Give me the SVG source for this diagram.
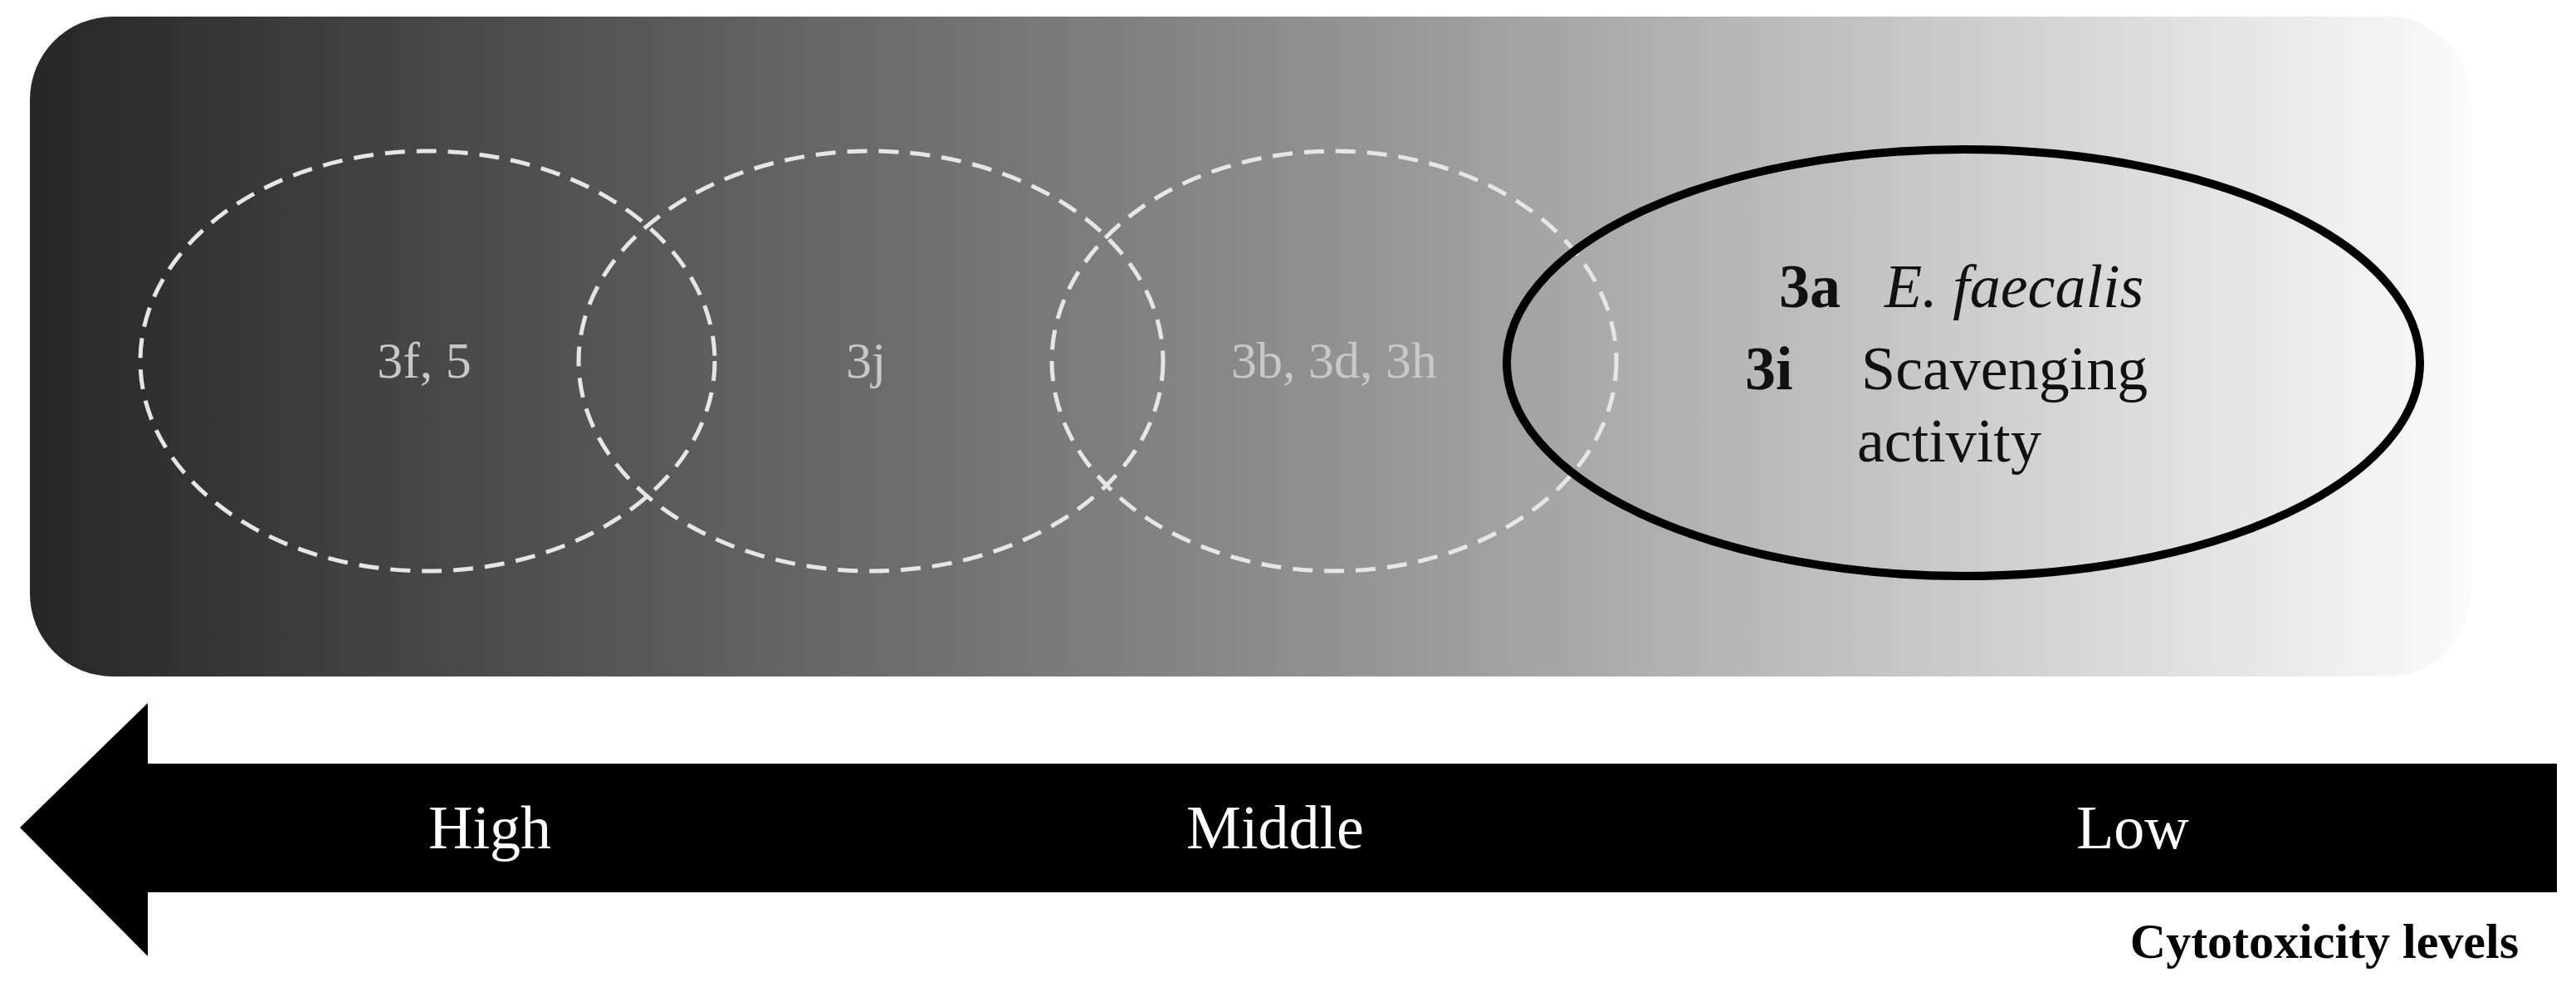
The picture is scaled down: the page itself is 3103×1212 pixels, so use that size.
<svg xmlns="http://www.w3.org/2000/svg" width="3103" height="1212" viewBox="0 0 3103 1212">
<defs>
<linearGradient id="bg" x1="0" y1="0" x2="1" y2="0">
<stop offset="0" stop-color="#262626"/>
<stop offset="0.5" stop-color="#8a8a8a"/>
<stop offset="1" stop-color="#fbfbfb"/>
</linearGradient>
</defs>
<style>
text{font-family:"Liberation Serif","DejaVu Serif",serif;}
.dash{fill:none;stroke:#e6e6e6;stroke-width:5;stroke-dasharray:24 14;}
.lbl{font-size:62px;fill:#c8c8c8;text-anchor:middle;}
.blk{font-size:74px;fill:#111;}
.wt{font-size:74px;fill:#fff;text-anchor:middle;}
</style>
<rect x="36" y="20" width="2940" height="795" rx="100" fill="url(#bg)"/>
<g id="n1"><ellipse class="dash" cx="515" cy="435" rx="346" ry="253"/><text class="lbl" x="511" y="455">3f, 5</text></g>
<g id="n2"><ellipse class="dash" cx="1049" cy="435" rx="352" ry="253"/><text class="lbl" x="1043" y="455">3j</text></g>
<g id="n3"><ellipse class="dash" cx="1607" cy="435" rx="340" ry="253"/><text class="lbl" x="1607" y="455" fill="#d0d0d0">3b, 3d, 3h</text></g>
<g id="n4"><ellipse cx="2365" cy="437" rx="550" ry="257" fill="none" stroke="#000" stroke-width="10"/>
<text class="blk" x="2143" y="370" font-weight="bold">3a</text>
<text class="blk" x="2270" y="370" font-style="italic">E. faecalis</text>
<text class="blk" x="2102" y="469" font-weight="bold">3i</text>
<text class="blk" x="2242" y="469">Scavenging</text>
<text class="blk" x="2237" y="556">activity</text></g>
<g id="connectors">
<polygon points="24,997 178,847 178,920 3080,920 3080,1075 178,1075 178,1152" fill="#000"/>
</g>
<text class="wt" x="590" y="1022">High</text>
<text class="wt" x="1536" y="1022">Middle</text>
<text class="wt" x="2569" y="1022">Low</text>
<text x="3034" y="1154" font-size="60" font-weight="bold" text-anchor="end" fill="#000">Cytotoxicity levels</text>
</svg>
